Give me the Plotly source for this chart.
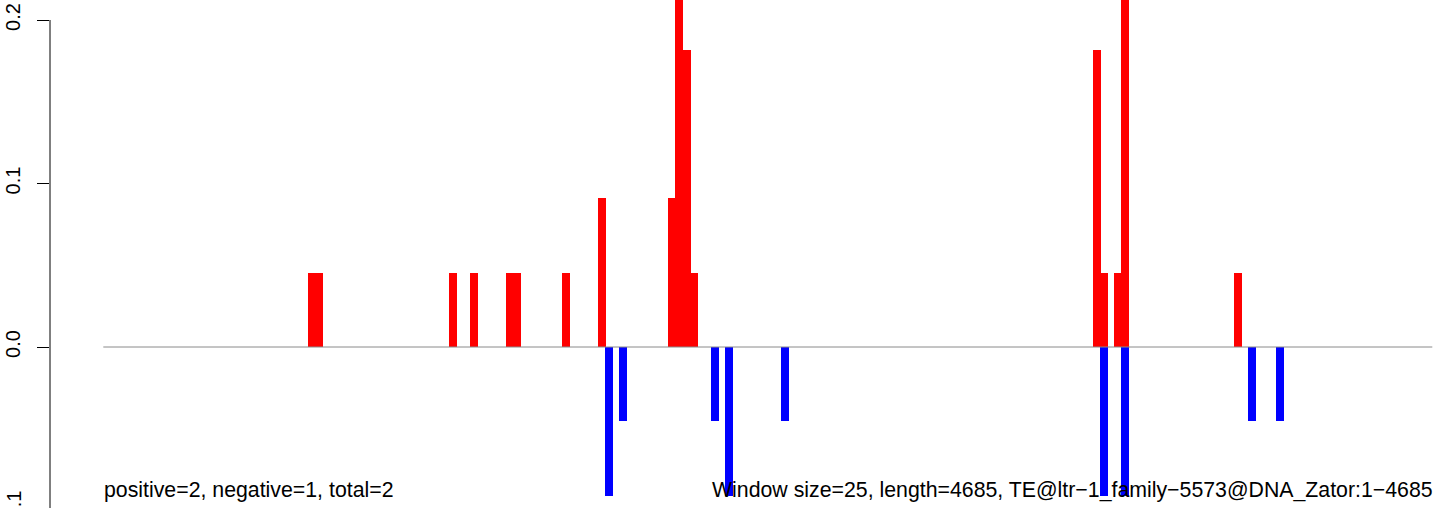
import plotly.graph_objects as go

# ---- data ----
seq_length = 4685
window_size = 25
n_bins = 188  # number of windows along the sequence

# positive (red) windows: bin index (0-based) and value
pos_bins = [29, 30, 49, 52, 57, 58, 65, 70, 80, 81, 82, 83, 140, 141, 143, 144, 160]
pos_vals = [0.0455, 0.0455, 0.0455, 0.0455, 0.0455, 0.0455, 0.0455, 0.0909,
            0.0909, 0.227, 0.1818, 0.0455, 0.1818, 0.0455, 0.0455, 0.227, 0.0455]

# negative (blue) windows
neg_bins = [71, 73, 86, 88, 96, 141, 144, 162, 166]
neg_vals = [-0.0909, -0.0455, -0.0455, -0.0909, -0.0455, -0.0909, -0.0909, -0.0455, -0.0455]

y_ticks = [0.0, 0.1, 0.2]
y_tick_text = ["0.0", "0.1", "0.2"]

left_label = "positive=2, negative=1, total=2"
right_label = "Window size=25, length=4685, TE@ltr\u22121_family\u22125573@DNA_Zator:1\u22124685"

# ---- derived ----
bin_bp = seq_length / n_bins
pos_x = [(b + 0.5) * bin_bp for b in pos_bins]
neg_x = [(b + 0.5) * bin_bp for b in neg_bins]

W, H = 1444, 508
ml, mr, mt, mb = 50, 0, 0, 0
px_per_bp = 1329.0 / seq_length
x_left = -53.3 / px_per_bp
x_right = seq_length + (W - 1432.3) / px_per_bp
bar_w = 8.0 / px_per_bp

px_per_unit = 1635.0
zero_px = 347.0
y_top = zero_px / px_per_unit
y_bot = -(H - zero_px) / px_per_unit

def y_paper(v):
    return (v - y_bot) / (y_top - y_bot)

FONT = "Liberation Sans, Arial, sans-serif"

fig = go.Figure()
fig.add_trace(go.Bar(x=pos_x, y=pos_vals, width=bar_w, marker=dict(color="#FF0000", line=dict(width=0)),
                     showlegend=False, hoverinfo="x+y"))
fig.add_trace(go.Bar(x=neg_x, y=neg_vals, width=bar_w, marker=dict(color="#0000FF", line=dict(width=0)),
                     showlegend=False, hoverinfo="x+y"))

# zero reference line
fig.add_shape(type="line", xref="x", yref="y", x0=0, x1=seq_length, y0=0, y1=0,
              line=dict(color="#8a8a8a", width=1), layer="above")
# y axis line spanning from the lowest to the highest tick (R style)
fig.add_shape(type="line", xref="paper", yref="paper", x0=0, x1=0,
              y0=y_paper(-0.1), y1=y_paper(0.2),
              line=dict(color="black", width=1), layer="above")

fig.add_annotation(x=-1.5 / px_per_bp, y=-0.0872, xref="x", yref="y", text=left_label, showarrow=False,
                   xanchor="left", yanchor="middle",
                   font=dict(family=FONT, size=21.3, color="#000000"))
fig.add_annotation(x=seq_length + 2.5 / px_per_bp, y=-0.0872, xref="x", yref="y", text=right_label,
                   showarrow=False, xanchor="right", yanchor="middle",
                   font=dict(family=FONT, size=21.3, color="#000000"))
# partially visible -0.1 tick label below the plot window
fig.add_annotation(x=(13.5 - ml) / (W - ml), y=y_paper(-0.1), xref="paper", yref="paper",
                   text="\u22120.1", showarrow=False, textangle=-90,
                   xanchor="center", yanchor="middle",
                   font=dict(family=FONT, size=20, color="#000000"))

fig.update_layout(
    width=W, height=H,
    margin=dict(l=ml, r=mr, t=mt, b=mb, pad=0, autoexpand=False),
    paper_bgcolor="white", plot_bgcolor="white",
    barmode="overlay", bargap=0,
    showlegend=False,
    xaxis=dict(range=[x_left, x_right], visible=False, fixedrange=True, automargin=False),
    yaxis=dict(range=[y_bot, y_top], tickvals=y_ticks, ticktext=y_tick_text,
               ticks="outside", ticklen=12, tickwidth=1, tickcolor="black",
               showline=False, automargin=False,
               showgrid=False, zeroline=False, tickangle=-90,
               tickfont=dict(family=FONT, size=20, color="black"),
               ticklabelstandoff=9, fixedrange=True),
)

fig.write_html("out.html",
               config={"displayModeBar": False, "staticPlot": True},
               post_script="document.body.style.margin='0';document.body.style.padding='0';")
